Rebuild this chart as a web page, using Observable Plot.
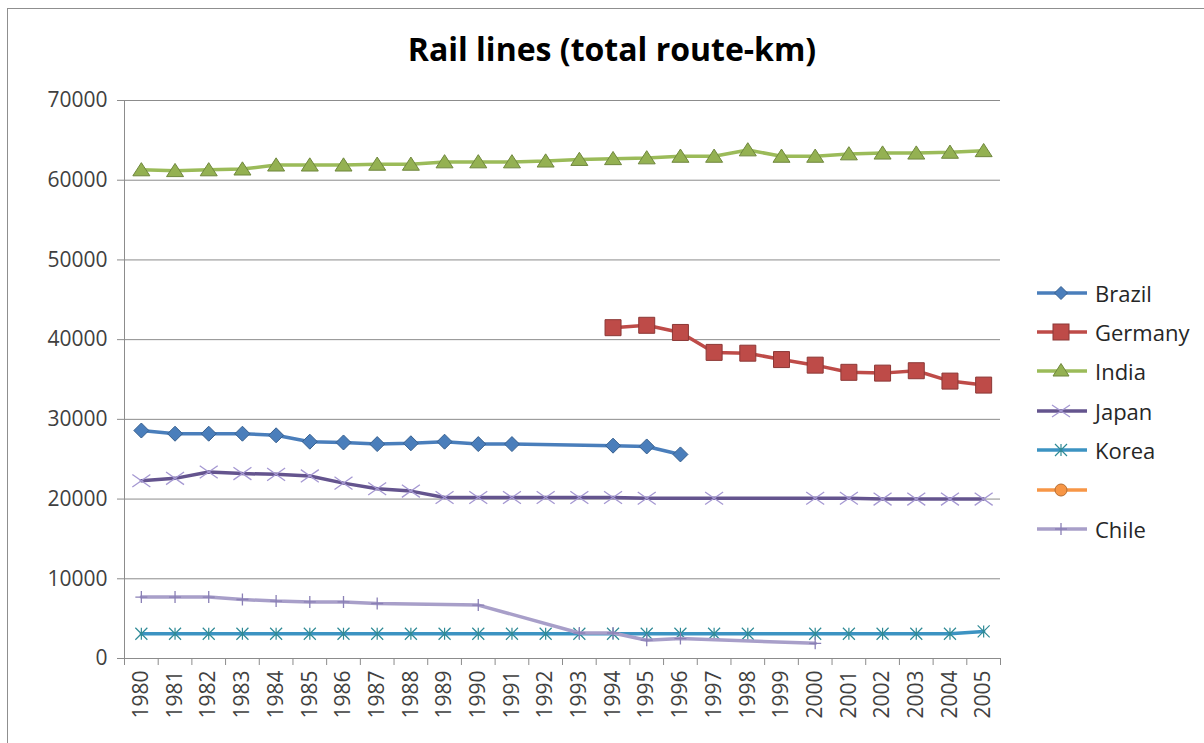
<!DOCTYPE html>
<html><head><meta charset="utf-8">
<script src="https://cdn.jsdelivr.net/npm/d3@7"></script>
<script src="https://cdn.jsdelivr.net/npm/@observablehq/plot@0.6"></script>
<style>
body{margin:0;background:#fff;font-family:"Open Sans",sans-serif;}
#wrap{position:relative;width:1204px;height:743px;overflow:hidden;background:#fff;}
#frame{position:absolute;left:7px;top:8px;width:1230px;height:770px;border:1.5px solid #8f8f8f;box-sizing:border-box;}
#title{position:absolute;top:27px;left:0;width:1224px;text-align:center;font-weight:700;font-size:32px;color:#000;}
#chart{position:absolute;left:0;top:80px;}
#legend{position:absolute;left:1035px;top:273px;}
.row{height:39.4px;display:flex;align-items:center;font-size:22px;color:#262626;}
.row svg{margin-right:2px;}
</style></head>
<body>
<div id="wrap">
<div id="frame"></div>
<div id="title">Rail lines (total route-km)</div>
<div id="chart"></div>
<div id="legend"></div>
</div>
<script>
const years = [1980,1981,1982,1983,1984,1985,1986,1987,1988,1989,1990,1991,1992,1993,1994,1995,1996,1997,1998,1999,2000,2001,2002,2003,2004,2005];
const yTicks = [0,10000,20000,30000,40000,50000,60000,70000];
const seriesNames = ["Brazil","Germany","India","Japan","Korea","","Chile"];
const brazil  = [28600,28200,28200,28200,28000,27200,27100,26900,27000,27200,26900,26900,null,null,26700,26600,25600,null,null,null,null,null,null,null,null,null];
const germany = [null,null,null,null,null,null,null,null,null,null,null,null,null,null,41500,41800,40900,38400,38300,37500,36800,35900,35800,36100,34800,34300];
const india   = [61300,61200,61300,61400,61900,61900,61900,62000,62000,62300,62300,62300,62400,62600,62700,62800,63000,63000,63800,63000,63000,63300,63400,63400,63500,63700];
const japan   = [22300,22600,23400,23200,23100,22900,22000,21300,21000,20200,20200,20200,20200,20200,20200,20100,null,20100,null,null,20100,20100,20000,20000,20000,20000];
const korea   = [3100,3100,3100,3100,3100,3100,3100,3100,3100,3100,3100,3100,3100,3100,3100,3100,3100,3100,3100,null,3100,3100,3100,3100,3100,3400];
const blank   = [null,null,null,null,null,null,null,null,null,null,null,null,null,null,null,null,null,null,null,null,null,null,null,null,null,null];
const chile   = [7700,7700,7700,7400,7200,7100,7100,6900,null,null,6700,null,null,3200,3200,2300,2500,null,null,null,1900,null,null,null,null,null];

const sym = fn => ({draw(c, size){ const r = Math.sqrt(size/Math.PI); fn(c, r); }});
const diamond = sym((c,r)=>{c.moveTo(0,-r);c.lineTo(r,0);c.lineTo(0,r);c.lineTo(-r,0);c.closePath();});
const square = sym((c,r)=>{c.moveTo(-r,-r);c.lineTo(r,-r);c.lineTo(r,r);c.lineTo(-r,r);c.closePath();});
const triangle = sym((c,r)=>{c.moveTo(0,-r*0.85);c.lineTo(r,r*0.7);c.lineTo(-r,r*0.7);c.closePath();});
const times = sym((c,r)=>{c.moveTo(-r,-r*0.7);c.lineTo(r,r*0.7);c.moveTo(-r,r*0.7);c.lineTo(r,-r*0.7);});
const star = sym((c,r)=>{c.moveTo(-r,-r);c.lineTo(r,r);c.moveTo(-r,r);c.lineTo(r,-r);c.moveTo(0,-r);c.lineTo(0,r);});
const plus = sym((c,r)=>{c.moveTo(-r,0);c.lineTo(r,0);c.moveTo(0,-r);c.lineTo(0,r);});

const styles = [
  {values: brazil,  line:"#4A7EBB", sw:3.5, symbol: diamond, r:7.5, fill:"#4A7EBB", stroke:"#37608F", msw:1},
  {values: germany, line:"#BE4B48", sw:3.5, symbol: square, r:8, fill:"#BE4B48", stroke:"#8C3836", msw:1},
  {values: india,   line:"#9BBB59", sw:3.5, symbol: triangle, r:8.5, fill:"#94B152", stroke:"#6F873D", msw:1},
  {values: japan,   line:"#64548E", sw:3.5, symbol: times, r:9, fill:"none", stroke:"#A598D2", msw:1.3},
  {values: korea,   line:"#3C93C2", sw:3.5, symbol: star, r:6, fill:"none", stroke:"#2F8A96", msw:1.2},
  {values: blank,   line:"#F79646", sw:3.5, symbol: "circle", r:6, fill:"#F79646", stroke:"#B66D31", msw:1},
  {values: chile,   line:"#A89FC9", sw:3.5, symbol: plus, r:6, fill:"none", stroke:"#8A80B6", msw:1.3}
];

const marks = [
  Plot.gridY(yTicks.slice(1), {stroke:"#8c8c8c", strokeOpacity:1}),
  Plot.ruleY([0], {stroke:"#8c8c8c"}),
  Plot.ruleX([years[0]-0.5], {stroke:"#8c8c8c"}),
  Plot.axisY(yTicks, {label:null, tickSize:7, tickPadding:10, stroke:"#8c8c8c", fill:"#404040", fontSize:21, tickFormat:d=>String(d)}),
  Plot.axisX(years, {label:null, tickSize:0, tickRotate:-90, tickPadding:12, fill:"#404040", fontSize:21, tickFormat:d=>String(d)}),
  Plot.axisX(years.map(y=>y-0.5).concat([years[years.length-1]+0.5]), {label:null, tickSize:7, stroke:"#8c8c8c", tickFormat:()=>""})
];
styles.forEach((s,k)=>{
  const data = years.map((y,i)=>({year:y, value:s.values[i], series:seriesNames[k]})).filter(d=>d.value!=null);
  if (!data.length) return;
  marks.push(Plot.line(data, {x:"year", y:"value", stroke:s.line, strokeWidth:s.sw, strokeLinejoin:"round", strokeLinecap:"round"}));
  marks.push(Plot.dot(data, {x:"year", y:"value", symbol:()=>s.symbol, r:s.r, fill:s.fill, stroke:s.stroke, strokeWidth:s.msw}));
});

const chart = Plot.plot({
  width:1204, height:663,
  marginTop:20, marginBottom:85, marginLeft:124, marginRight:204,
  x:{type:"linear", domain:[years[0]-0.5, years[years.length-1]+0.5], axis:null, label:null},
  y:{domain:[0,70000], axis:null, label:null},
  symbol:{type:"identity"},
  style:{fontFamily:"Open Sans", fontSize:"21px", background:"transparent", overflow:"visible"},
  marks
});
document.getElementById("chart").appendChild(chart);

// legend
const legendPaths = [
  '<path d="M20,5.5 L26.5,12 L20,18.5 L13.5,12Z" transform="translate(6,0)" fill="#4A7EBB" stroke="#37608F"/>',
  '<rect x="18" y="4" width="16" height="16" fill="#BE4B48" stroke="#8C3836"/>',
  '<path d="M26,4.5 L34,17 L18,17Z" fill="#94B152" stroke="#6F873D"/>',
  '<path d="M17,6 L35,18 M17,18 L35,6" stroke="#A598D2" stroke-width="1.3" fill="none"/>',
  '<path d="M20,6 L32,18 M20,18 L32,6 M26,6 L26,18" stroke="#2F8A96" stroke-width="1.2" fill="none"/>',
  '<circle cx="26" cy="12" r="6" fill="#F79646" stroke="#B66D31"/>',
  '<path d="M20,12 L32,12 M26,6 L26,18" stroke="#8A80B6" stroke-width="1.3" fill="none"/>'
];
const leg = document.getElementById("legend");
seriesNames.forEach((n,k)=>{
  const s = styles[k];
  const row = document.createElement("div");
  row.className = "row";
  row.innerHTML = `<svg width="58" height="24"><line x1="2" y1="12" x2="52" y2="12" stroke="${s.line}" stroke-width="3.5"/>${legendPaths[k]}</svg><span>${n}</span>`;
  leg.appendChild(row);
});
</script>
</body></html>
